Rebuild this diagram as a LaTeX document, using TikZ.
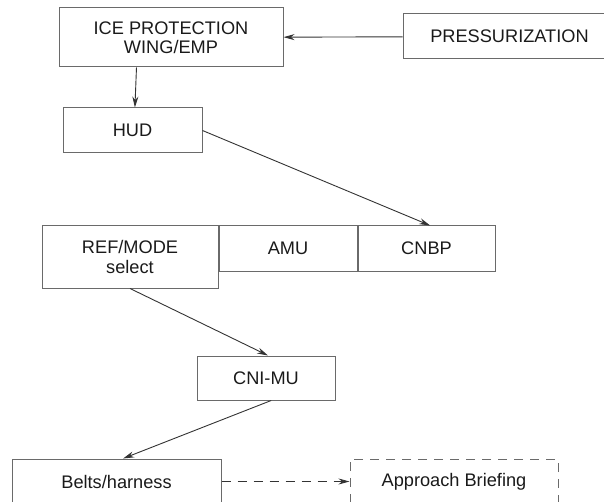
\documentclass[tikz,border=0pt]{standalone}
\usetikzlibrary{positioning,arrows.meta}
\usepackage{fontspec}
\setmainfont{Liberation Sans}
\usepackage{xcolor}
\definecolor{edge}{HTML}{6A6A6A}
\definecolor{ink}{HTML}{1A1A1A}
\definecolor{wire}{HTML}{333333}

\begin{document}
\begin{tikzpicture}[x=1pt,y=-1pt,>={Stealth[length=11pt,width=6pt]},
	font=\fontsize{18.2pt}{19.5pt}\selectfont, text=ink]
\tikzstyle{block}=[rectangle, draw=edge, line width=1pt, inner sep=0pt, align=center, minimum height=45pt]
\tikzstyle{link}=[->, draw=wire, line width=0.9pt]
\tikzstyle{later}=[dash pattern=on 9pt off 7pt]

	\useasboundingbox (0,0) rectangle (604,502);
	\clip (0,0) rectangle (604,502);

	\node[block, minimum width=224pt, minimum height=59pt] (ice) at (171,37.5) {ICE PROTECTION\\WING/EMP};
	\node[block, minimum width=213pt] (press) at (509.5,36.5) {PRESSURIZATION};
	\node[block, minimum width=139pt] (hud) at (132.5,130.5) {HUD};
	\node[block, minimum width=176pt, minimum height=62pt] (ref) at (130,257) {REF/MODE\\select};
	\node[block, minimum width=138pt, anchor=north west] (amu) at (ref.north east) {AMU};
	\node[block, minimum width=137pt, anchor=north west] (cnbp) at (amu.north east) {CNBP};
	\node[block, minimum width=138pt, minimum height=44pt] (cni) at (266,378) {CNI-MU};
	\node[block, minimum width=209pt] (belts) at (116.5,481.5) {Belts/harness};
	\node[block, later, minimum width=208pt] (brief) [right=128pt of belts] {Approach Briefing};

	\path	(press) edge[link] (ice)
			(ice.221) edge[link] (hud.84)
			(hud.east) edge[link] (cnbp.81)
			(ref.south) edge[link] (cni.85)
			(cni.283) edge[link] (belts.74)
			(belts) edge[link, later] (brief);
\end{tikzpicture}
\end{document}
